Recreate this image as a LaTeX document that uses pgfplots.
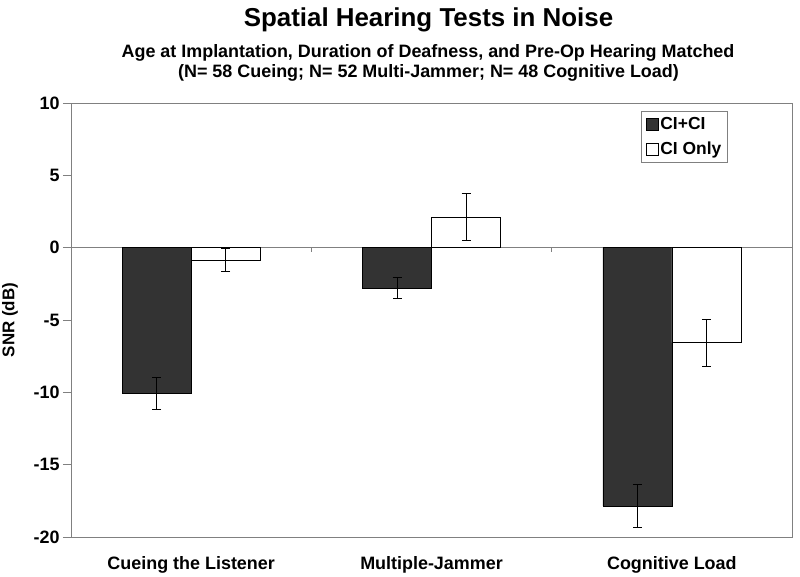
\documentclass[border=0pt]{standalone}
\usepackage{fontspec}
\setmainfont{Liberation Sans}
\usepackage{pgfplots}
\pgfplotsset{compat=1.18}
\definecolor{barDark}{HTML}{333333}
\definecolor{axGray}{HTML}{808080}
\begin{document}
\begin{tikzpicture}
\path[use as bounding box] (0,0) rectangle (800bp,577bp);
\begin{axis}[
  at={(71bp,40bp)}, anchor=south west,
  scale only axis, width=721bp, height=434bp,
  ybar=0pt, bar width=69bp,
  xmin=-0.5, xmax=2.5, ymin=-20, ymax=10,
  xtick={0,1,2},
  xticklabels={Cueing the Listener, Multiple-Jammer, Cognitive Load},
  ytick={-20,-15,...,10},
  ytick pos=left, xtick pos=left,
  axis line style={axGray, line width=0.8bp},
  x tick style={draw=none},
  y tick style={axGray, line width=0.8bp},
  tick align=outside, major tick length=8bp,
  /pgf/number format/assume math mode=true,
  ticklabel style={font=\fontsize{18}{20}\selectfont\bfseries},
  xticklabel style={yshift=-8bp},
  extra y ticks={0}, extra y tick labels={},
  extra y tick style={grid=major, major grid style={axGray, line width=0.8bp}, major tick length=0pt},
  ylabel={SNR (dB)},
  ylabel style={font=\fontsize{17}{20}\selectfont\bfseries, at={(axis description cs:-0.0957,0.5)}, anchor=north, inner sep=0pt},
  legend style={at={(rel axis cs:0.911,0.9816)}, anchor=north east, draw=axGray, line width=0.8bp,
    font=\fontsize{17.5}{20}\selectfont\bfseries, inner xsep=4bp, inner ysep=4bp,
    row sep=7bp, legend cell align=left},
  legend image code/.code={\draw[#1, draw=black, line width=0.6bp] (0bp,-6bp) rectangle (12bp,6bp);},
]
\addplot[fill=barDark, draw=black, line width=0.6bp,
  error bars/.cd, y dir=both, y explicit,
  error bar style={black, line width=0.8bp},
  error mark options={rotate=90, black, mark size=4.5bp, line width=0.8bp}]
  coordinates {(0,-10.1) +- (0,1.1) (1,-2.8) +- (0,0.72) (2,-17.85) +- (0,1.46)};
\addplot[fill=white, draw=black, line width=0.6bp,
  error bars/.cd, y dir=both, y explicit,
  error bar style={black, line width=0.8bp},
  error mark options={rotate=90, black, mark size=4.5bp, line width=0.8bp}]
  coordinates {(0,-0.85) +- (0,0.8) (1,2.13) +- (0,1.63) (2,-6.57) +- (0,1.63)};
\legend{CI+CI, CI Only}
\draw[axGray, line width=0.8bp] (axis cs:0.5,0) -- ++(0bp,-4bp);
\draw[axGray, line width=0.8bp] (axis cs:1.5,0) -- ++(0bp,-4bp);
\end{axis}
\node[anchor=base, font=\fontsize{26}{26}\selectfont\bfseries] at (428.5bp,550bp) {Spatial Hearing Tests in Noise};
\node[anchor=base, font=\fontsize{18}{18}\selectfont\bfseries] at (428bp,519bp) {Age at Implantation, Duration of Deafness, and Pre-Op Hearing Matched};
\node[anchor=base, font=\fontsize{18}{18}\selectfont\bfseries] at (428.5bp,499bp) {(N= 58 Cueing; N= 52 Multi-Jammer; N= 48 Cognitive Load)};
\end{tikzpicture}
\end{document}
